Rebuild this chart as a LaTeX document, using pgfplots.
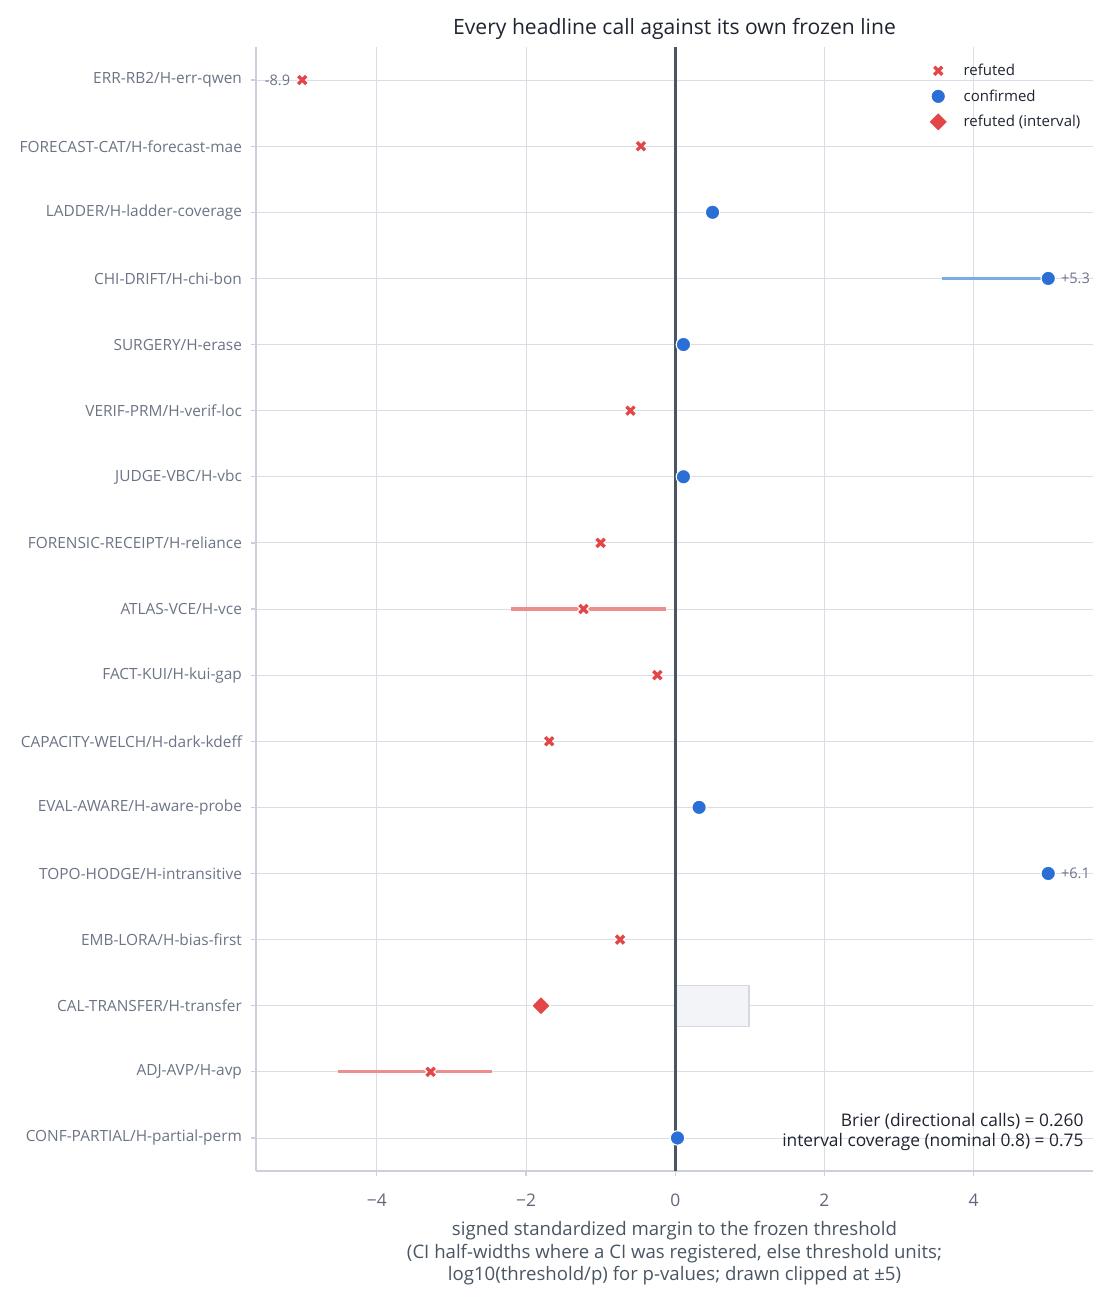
\documentclass[border=0pt]{standalone}
\usepackage{pgfplots}
\pgfplotsset{compat=1.18}
\usepackage{fontspec}
\setmainfont{Open Sans}
\setsansfont{Open Sans}

\definecolor{refred}{HTML}{E24646}
\definecolor{confblue}{HTML}{2B6FD6}
\definecolor{cired}{HTML}{EC8E8E}
\definecolor{ciblue}{HTML}{7DAAE6}
\definecolor{gridc}{HTML}{DADCE8}
\definecolor{spinec}{HTML}{CDD0DC}
\definecolor{zeroc}{HTML}{4A5563}
\definecolor{labc}{HTML}{6B7385}
\definecolor{titc}{HTML}{1F2430}
\definecolor{boxfill}{HTML}{F3F4F7}
\definecolor{boxdraw}{HTML}{D5D8E0}

% point estimates: x = clipped margin, y = row (0 at the top)
\pgfplotstableread{
x y
-5.00 0
-0.46 1
-0.60 5
-1.00 7
-1.23 8
-0.24 9
-1.69 10
-0.74 13
-3.28 15
}\refuted
\pgfplotstableread{
x y
0.50 2
5.00 3
0.11 4
0.11 6
0.32 11
5.00 12
0.03 16
}\confirmed

\begin{document}
\begin{tikzpicture}
\begin{axis}[
  name=main, at={(0,0)}, anchor=south west,
  scale only axis, width=602.64pt, height=809.28pt,
  xmin=-5.62, xmax=5.60,
  ymin=-0.5, ymax=16.5, y dir=reverse,
  ytick={0,...,16},
  yticklabels={ERR-RB2/H-err-qwen, FORECAST-CAT/H-forecast-mae, LADDER/H-ladder-coverage,
    CHI-DRIFT/H-chi-bon, SURGERY/H-erase, VERIF-PRM/H-verif-loc, JUDGE-VBC/H-vbc,
    FORENSIC-RECEIPT/H-reliance, ATLAS-VCE/H-vce, FACT-KUI/H-kui-gap,
    CAPACITY-WELCH/H-dark-kdeff, EVAL-AWARE/H-aware-probe, TOPO-HODGE/H-intransitive,
    EMB-LORA/H-bias-first, CAL-TRANSFER/H-transfer, ADJ-AVP/H-avp, CONF-PARTIAL/H-partial-perm},
  xtick={-4,-2,0,2,4},
  xticklabels={−4,−2,0,2,4},
  grid=major, major grid style={gridc, line width=0.6pt},
  axis x line*=bottom, axis y line*=left,
  axis line style={spinec, line width=0.9pt},
  tick align=outside, tick pos=left,
  major tick length=3.6pt,
  tick style={spinec, line width=0.9pt},
  yticklabel style={font=\fontsize{11.1}{13}\selectfont, text=labc, xshift=-3pt},
  xticklabel style={font=\fontsize{12.5}{14}\selectfont, text=labc!90!black, yshift=-9.5pt},
  legend style={at={(axis description cs:0.9935,0.990)}, anchor=north east,
    draw=none, fill=none, font=\fontsize{10.8}{12}\selectfont, row sep=4.6pt, column sep=9.5pt,
    nodes={text=titc}},
  legend cell align=left,
  clip=false,
]
% interval box behind the threshold line
\addplot[fill=boxfill, draw=boxdraw, line width=0.9pt, forget plot]
  coordinates {(0,13.69) (0.99,13.69) (0.99,14.31) (0,14.31)} -- cycle;
% frozen threshold
\addplot[zeroc, line width=2.1pt, forget plot] coordinates {(0,-0.5) (0,16.5)};
% confidence intervals
\addplot[cired, line width=2.3pt, forget plot] coordinates {(-2.20,8) (-0.13,8)};
\addplot[cired, line width=2.3pt, forget plot] coordinates {(-4.52,15) (-2.45,15)};
\addplot[ciblue, line width=2.3pt, forget plot] coordinates {(3.58,3) (5.00,3)};
% markers
\addplot[only marks, mark=x, mark size=4.8pt, white, line width=4.4pt, forget plot] table {\refuted};
\addplot[only marks, mark=x, mark size=4.1pt, refred, line width=2.4pt] table {\refuted};
\addlegendentry{refuted}
\addplot[only marks, mark=*, mark size=5.2pt, mark options={fill=confblue, draw=white, line width=0.8pt}] table {\confirmed};
\addlegendentry{confirmed}
\addplot[only marks, mark=square*, mark size=4.8pt, mark options={rotate=45, fill=refred, draw=white, line width=0.8pt}]
  coordinates {(-1.80,14)};
\addlegendentry{refuted (interval)}
% values beyond the clip
\node[anchor=east, text=labc, font=\fontsize{10.5}{12}\selectfont, inner sep=0pt] at (axis cs:-5.00,0) [xshift=-8.5pt] {-8.9};
\node[anchor=west, text=labc, font=\fontsize{10.5}{12}\selectfont, inner sep=0pt] at (axis cs:5.00,3) [xshift=9pt] {+5.3};
\node[anchor=west, text=labc, font=\fontsize{10.5}{12}\selectfont, inner sep=0pt] at (axis cs:5.00,12) [xshift=9pt] {+6.1};
% summary scores
\node[anchor=south east, align=right, inner sep=0pt, text=titc,
  font=\fontsize{12.5}{14.4}\selectfont] at (axis description cs:0.989,0.0175)
  {Brier (directional calls) = 0.260\\interval coverage (nominal 0.8) = 0.75};
% title and axis label
\node[anchor=base, text=titc, font=\fontsize{15.2}{17}\selectfont] at (axis description cs:0.5,1) [yshift=9pt]
  {Every headline call against its own frozen line};
\node[anchor=north, align=center, inner sep=0pt, text=zeroc, font=\fontsize{13.4}{16.2}\selectfont]
  at (axis description cs:0.5,0) [yshift=-36pt]
  {signed standardized margin to the frozen threshold\\(CI half-widths where a CI was registered, else threshold units;\\log10(threshold/p) for p-values; drawn clipped at ±5)};
\end{axis}
\pgfresetboundingbox
\path (-184.32pt,-93.6pt) rectangle (613.44pt,843.12pt);
\end{tikzpicture}
\end{document}
